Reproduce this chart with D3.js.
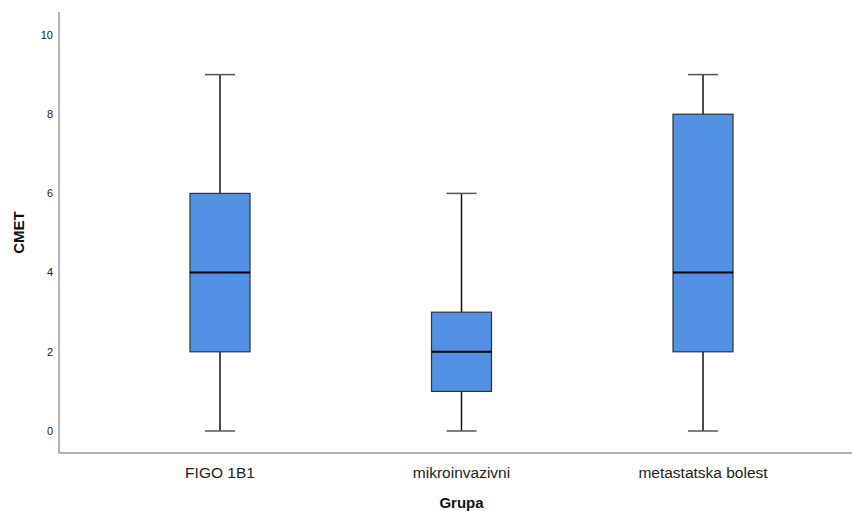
<!DOCTYPE html>
<html>
<head>
<meta charset="utf-8">
<script src="https://cdn.jsdelivr.net/npm/d3@7"></script>
<style>
  body { margin: 0; background: #fff; }
  svg { font-family: "Liberation Sans", Arial, sans-serif; }
</style>
</head>
<body>
<div id="chart"></div>
<script>
// Box plot data per group
const groups = ["FIGO 1B1", "mikroinvazivni", "metastatska bolest"];
const mins = [0, 0, 0];
const q1s = [2, 1, 2];
const medians = [4, 2, 4];
const q3s = [6, 3, 8];
const maxs = [9, 6, 9];
const yTicks = [0, 2, 4, 6, 8, 10];

const width = 852, height = 511;

const svg = d3.select("#chart")
  .append("svg")
  .attr("width", width)
  .attr("height", height);

const xScale = d3.scalePoint().domain(groups).range([220, 703]);
const yScale = d3.scaleLinear().domain([0, 10]).range([431, 35]);

const axisX = 59;
const axisBottom = yScale(-0.556);
const axisTop = yScale(10.58);

// axes lines
svg.append("line")
  .attr("x1", axisX).attr("x2", axisX)
  .attr("y1", axisTop).attr("y2", axisBottom)
  .attr("stroke", "#9b9b9b").attr("stroke-width", 1.5);

svg.append("line")
  .attr("x1", axisX).attr("x2", width)
  .attr("y1", axisBottom).attr("y2", axisBottom)
  .attr("stroke", "#9b9b9b").attr("stroke-width", 1.5);

// y tick labels
svg.selectAll(".ytick")
  .data(yTicks)
  .join("text")
  .attr("class", "ytick")
  .attr("x", 53)
  .attr("y", d => yScale(d))
  .attr("dy", "0.35em")
  .attr("text-anchor", "end")
  .attr("font-size", 11)
  .attr("fill", "#222")
  .text(d => d);

// x labels
svg.selectAll(".xlabel")
  .data(groups)
  .join("text")
  .attr("class", "xlabel")
  .attr("x", d => xScale(d))
  .attr("y", 478)
  .attr("text-anchor", "middle")
  .attr("font-size", 15.5)
  .attr("fill", "#222")
  .text(d => d);

// axis titles
svg.append("text")
  .attr("x", xScale(groups[1]))
  .attr("y", 508)
  .attr("text-anchor", "middle")
  .attr("font-size", 15)
  .attr("font-weight", "bold")
  .attr("fill", "#111")
  .text("Grupa");

svg.append("text")
  .attr("transform", `translate(24,${(axisTop + axisBottom) / 2}) rotate(-90)`)
  .attr("text-anchor", "middle")
  .attr("font-size", 15)
  .attr("font-weight", "bold")
  .attr("fill", "#111")
  .text("CMET");

const boxW = 60, capW = 30;
const boxes = groups.map((g, i) => ({
  g, min: mins[i], q1: q1s[i], med: medians[i], q3: q3s[i], max: maxs[i]
}));

const bg = svg.selectAll(".box")
  .data(boxes)
  .join("g")
  .attr("class", "box");

// whiskers
bg.append("line")
  .attr("x1", d => xScale(d.g)).attr("x2", d => xScale(d.g))
  .attr("y1", d => yScale(d.min)).attr("y2", d => yScale(d.q1))
  .attr("stroke", "#111").attr("stroke-width", 1.5);
bg.append("line")
  .attr("x1", d => xScale(d.g)).attr("x2", d => xScale(d.g))
  .attr("y1", d => yScale(d.q3)).attr("y2", d => yScale(d.max))
  .attr("stroke", "#111").attr("stroke-width", 1.5);

// caps
bg.selectAll(".cap")
  .data(d => [{ g: d.g, v: d.min }, { g: d.g, v: d.max }])
  .join("line")
  .attr("class", "cap")
  .attr("x1", d => xScale(d.g) - capW / 2)
  .attr("x2", d => xScale(d.g) + capW / 2)
  .attr("y1", d => yScale(d.v)).attr("y2", d => yScale(d.v))
  .attr("stroke", "#555").attr("stroke-width", 1.5);

// box
bg.append("rect")
  .attr("x", d => xScale(d.g) - boxW / 2)
  .attr("width", boxW)
  .attr("y", d => yScale(d.q3))
  .attr("height", d => yScale(d.q1) - yScale(d.q3))
  .attr("fill", "#5391e4")
  .attr("stroke", "#333")
  .attr("stroke-width", 1.2);

// median
bg.append("line")
  .attr("x1", d => xScale(d.g) - boxW / 2)
  .attr("x2", d => xScale(d.g) + boxW / 2)
  .attr("y1", d => yScale(d.med)).attr("y2", d => yScale(d.med))
  .attr("stroke", "#000").attr("stroke-width", 2);
</script>
</body>
</html>
